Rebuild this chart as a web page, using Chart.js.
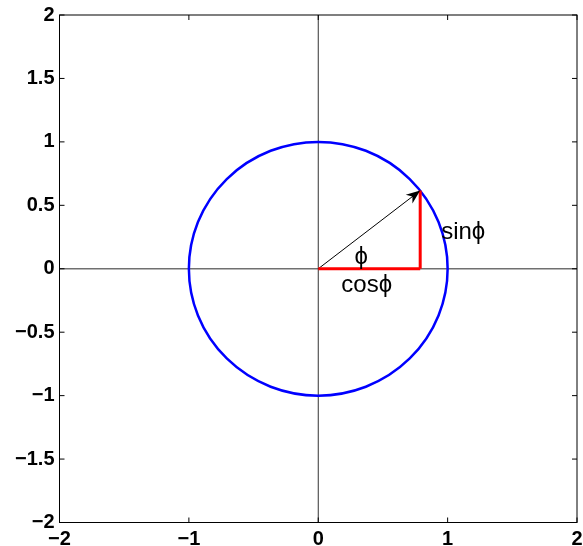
<!DOCTYPE html>
<html>
<head>
<meta charset="utf-8">
<script src="https://cdn.jsdelivr.net/npm/chart.js@4.4.1/dist/chart.umd.min.js"></script>
<style>
html, body { margin: 0; padding: 0; background: #fff; }
</style>
</head>
<body>
<canvas id="chart" width="583" height="546"></canvas>
<script>
// axis range and tick values
const axisRange = [-2, 2];
const xTickValues = [-2, -1, 0, 1, 2];
const yTickValues = [-2, -1.5, -1, -0.5, 0, 0.5, 1, 1.5, 2];

// unit circle
const circleCenter = [0, 0];
const circleRadius = 1;

// vector (cos phi, sin phi) and its legs
const vectorX = [0, 0.788];
const vectorY = [0, 0.616];
const cosLegX = [0, 0.788];
const cosLegY = [0, 0];
const sinLegX = [0.788, 0.788];
const sinLegY = [0, 0.616];

// text annotations
const noteText = ['\u03d5', 'sin\u03d5', 'cos\u03d5'];
const noteX = [0.28, 0.95, 0.178];
const noteY = [0.037, 0.234, -0.187];

function toPoints(xs, ys) {
    return xs.map((x, i) => ({ x: x, y: ys[i] }));
}

function fmt(v) {
    return String(v).replace('-', '\u2212');
}

const tickFont = { family: 'Liberation Sans', size: 20, weight: 'bold' };

const framePlugin = {
    id: 'frame',
    beforeDatasetsDraw(chart) {
        const c = chart.ctx;
        const xs = chart.scales.x, ys = chart.scales.y;
        const a = chart.chartArea;
        c.save();
        // axis lines through the origin
        c.lineWidth = 1.5;
        c.strokeStyle = '#707070';
        c.beginPath();
        c.moveTo(a.left, ys.getPixelForValue(0));
        c.lineTo(a.right, ys.getPixelForValue(0));
        c.stroke();
        c.lineWidth = 1;
        c.strokeStyle = '#333';
        c.beginPath();
        c.moveTo(xs.getPixelForValue(0), a.top);
        c.lineTo(xs.getPixelForValue(0), a.bottom);
        c.stroke();
        // circle
        const cx = xs.getPixelForValue(circleCenter[0]);
        const cy = ys.getPixelForValue(circleCenter[1]);
        const rx = xs.getPixelForValue(circleCenter[0] + circleRadius) - cx;
        const ry = cy - ys.getPixelForValue(circleCenter[1] + circleRadius);
        c.lineWidth = 2.5;
        c.strokeStyle = '#0000ff';
        c.beginPath();
        c.ellipse(cx, cy, rx, ry, 0, 0, Math.PI * 2);
        c.stroke();
        c.restore();
    },
    afterDatasetsDraw(chart) {
        const c = chart.ctx;
        const xs = chart.scales.x, ys = chart.scales.y;
        const a = chart.chartArea;
        c.save();
        // arrow head
        const x0 = xs.getPixelForValue(vectorX[0]), y0 = ys.getPixelForValue(vectorY[0]);
        const x1 = xs.getPixelForValue(vectorX[1]), y1 = ys.getPixelForValue(vectorY[1]);
        const ang = Math.atan2(y1 - y0, x1 - x0);
        const len = 14, wid = 5.5;
        const bx = x1 - len * Math.cos(ang), by = y1 - len * Math.sin(ang);
        const nx = -Math.sin(ang), ny = Math.cos(ang);
        const mx = x1 - 0.7 * len * Math.cos(ang), my = y1 - 0.7 * len * Math.sin(ang);
        c.fillStyle = '#000';
        c.beginPath();
        c.moveTo(x1, y1);
        c.lineTo(bx + nx * wid, by + ny * wid);
        c.lineTo(mx, my);
        c.lineTo(bx - nx * wid, by - ny * wid);
        c.closePath();
        c.fill();
        // notes
        c.font = '24px "Liberation Sans"';
        c.fillStyle = '#000';
        c.textAlign = 'left';
        c.textBaseline = 'alphabetic';
        noteText.forEach((t, i) => {
            c.fillText(t, xs.getPixelForValue(noteX[i]), ys.getPixelForValue(noteY[i]));
        });
        // box and inward ticks
        c.strokeStyle = '#000';
        c.lineWidth = 1;
        c.strokeRect(a.left, a.top, a.right - a.left, a.bottom - a.top);
        const tl = 5;
        c.beginPath();
        xTickValues.forEach(v => {
            const px = xs.getPixelForValue(v);
            c.moveTo(px, a.bottom); c.lineTo(px, a.bottom - tl);
            c.moveTo(px, a.top); c.lineTo(px, a.top + tl);
        });
        yTickValues.forEach(v => {
            const py = ys.getPixelForValue(v);
            c.moveTo(a.left, py); c.lineTo(a.left + tl, py);
            c.moveTo(a.right, py); c.lineTo(a.right - tl, py);
        });
        c.stroke();
        c.restore();
    }
};

new Chart(document.getElementById('chart'), {
    type: 'scatter',
    data: {
        datasets: [
            { data: toPoints(cosLegX, cosLegY), showLine: true, borderColor: '#ff0000', borderWidth: 3, pointRadius: 0 },
            { data: toPoints(sinLegX, sinLegY), showLine: true, borderColor: '#ff0000', borderWidth: 3, pointRadius: 0 },
            { data: toPoints(vectorX, vectorY), showLine: true, borderColor: '#000000', borderWidth: 1, pointRadius: 0 }
        ]
    },
    options: {
        responsive: false,
        animation: false,
        layout: { padding: { top: 15, right: 6, left: 0, bottom: 0 } },
        plugins: { legend: { display: false }, tooltip: { enabled: false } },
        scales: {
            x: {
                type: 'linear',
                min: axisRange[0],
                max: axisRange[1],
                afterBuildTicks: s => { s.ticks = xTickValues.map(v => ({ value: v })); },
                afterFit: s => { s.height = 23.5; s.paddingLeft = 0; s.paddingRight = 0; },
                grid: { display: false, drawTicks: false },
                border: { display: false },
                ticks: { font: tickFont, color: '#000', padding: 5, maxRotation: 0, autoSkip: false, callback: fmt }
            },
            y: {
                type: 'linear',
                min: axisRange[0],
                max: axisRange[1],
                afterBuildTicks: s => { s.ticks = yTickValues.map(v => ({ value: v })); },
                afterFit: s => { s.width = 59.5; s.paddingTop = 0; s.paddingBottom = 0; },
                grid: { display: false, drawTicks: false },
                border: { display: false },
                ticks: { font: tickFont, color: '#000', padding: 5, autoSkip: false, callback: fmt }
            }
        }
    },
    plugins: [framePlugin]
});
</script>
</body>
</html>
